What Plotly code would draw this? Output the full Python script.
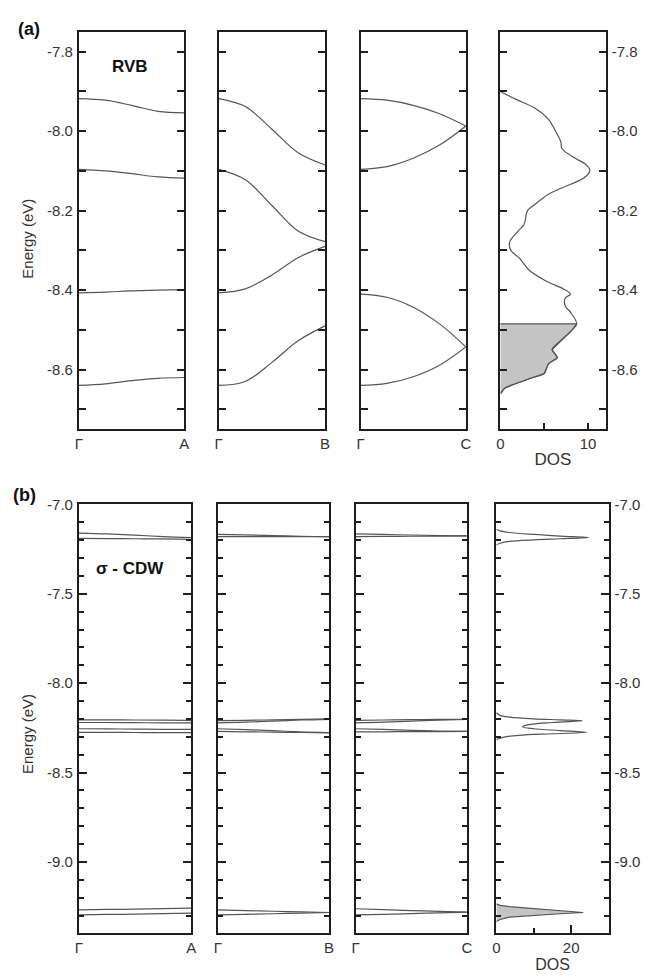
import plotly.graph_objects as go

# ---------------- data ----------------
k = [0.0, 0.25, 0.5, 0.75, 1.0]

# (a) RVB bands (eV)
a_GA = [[-7.918, -7.922, -7.935, -7.950, -7.954],
        [-8.096, -8.100, -8.107, -8.115, -8.118],
        [-8.407, -8.405, -8.402, -8.400, -8.399],
        [-8.640, -8.636, -8.628, -8.622, -8.620]]
a_GB = [[-7.918, -7.938, -7.995, -8.055, -8.085],
        [-8.096, -8.122, -8.187, -8.252, -8.278],
        [-8.407, -8.397, -8.362, -8.318, -8.290],
        [-8.640, -8.630, -8.582, -8.527, -8.490]]
a_GC = [[-7.918, -7.922, -7.935, -7.956, -7.987],
        [-8.096, -8.089, -8.068, -8.035, -7.987],
        [-8.410, -8.418, -8.443, -8.485, -8.543],
        [-8.640, -8.635, -8.618, -8.589, -8.543]]

# (a) DOS
dos_a_E = [-7.900, -7.920, -7.943, -7.968, -8.000, -8.027, -8.043, -8.064, -8.085, -8.100,
           -8.118, -8.143, -8.160, -8.185, -8.200, -8.235, -8.252, -8.280, -8.300, -8.320,
           -8.350, -8.377, -8.397, -8.410, -8.420, -8.440, -8.456, -8.485, -8.500, -8.527,
           -8.550, -8.570, -8.585, -8.610, -8.620, -8.635, -8.647, -8.660]
dos_a_val = [0.0, 1.8, 4.0, 5.4, 6.3, 6.9, 7.0, 8.2, 9.8, 10.2,
             9.5, 7.0, 5.4, 3.9, 3.1, 2.7, 2.0, 1.05, 1.2, 2.2,
             3.3, 5.2, 7.2, 8.0, 7.4, 7.4, 8.0, 8.7, 8.2, 6.9,
             5.9, 6.5, 5.5, 5.0, 3.7, 1.8, 0.5, 0.1]
fermi_a = -8.485

# (b) sigma-CDW bands (eV)
b_GA = [[-7.160, -7.165, -7.172, -7.180, -7.185],
        [-7.190, -7.191, -7.192, -7.193, -7.195],
        [-8.205, -8.205, -8.206, -8.207, -8.208],
        [-8.220, -8.220, -8.221, -8.222, -8.222],
        [-8.255, -8.256, -8.257, -8.258, -8.258],
        [-8.275, -8.275, -8.276, -8.277, -8.277],
        [-9.268, -9.266, -9.264, -9.261, -9.259],
        [-9.296, -9.294, -9.292, -9.289, -9.287]]
b_GB = [[-7.167, -7.170, -7.174, -7.178, -7.180],
        [-7.180, -7.180, -7.180, -7.180, -7.180],
        [-8.210, -8.208, -8.205, -8.202, -8.200],
        [-8.222, -8.218, -8.212, -8.206, -8.202],
        [-8.255, -8.260, -8.266, -8.272, -8.276],
        [-8.270, -8.272, -8.274, -8.276, -8.278],
        [-9.268, -9.272, -9.276, -9.280, -9.283],
        [-9.296, -9.293, -9.290, -9.286, -9.283]]
b_GC = [[-7.165, -7.168, -7.171, -7.174, -7.176],
        [-7.180, -7.179, -7.178, -7.177, -7.176],
        [-8.208, -8.206, -8.204, -8.203, -8.202],
        [-8.222, -8.218, -8.212, -8.207, -8.203],
        [-8.255, -8.259, -8.264, -8.268, -8.270],
        [-8.272, -8.272, -8.271, -8.271, -8.270],
        [-9.262, -9.267, -9.272, -9.277, -9.281],
        [-9.296, -9.293, -9.289, -9.285, -9.281]]

# (b) DOS peaks (each listed top to bottom)
dos_b1_E = [-7.139, -7.148, -7.157, -7.168, -7.177, -7.185, -7.192, -7.198, -7.207, -7.217, -7.226]
dos_b1_val = [0.0, 1.0, 3.5, 10.0, 17.0, 24.6, 17.0, 10.0, 3.5, 1.0, 0.0]
dos_b2_E = [-8.165, -8.180, -8.190, -8.200, -8.205, -8.210, -8.220, -8.235, -8.245, -8.255,
            -8.265, -8.275, -8.283, -8.292, -8.302, -8.315]
dos_b2_val = [0.0, 1.0, 3.5, 10.0, 17.0, 23.0, 15.0, 8.0, 7.0, 10.0,
              17.0, 24.0, 15.0, 6.0, 2.0, 0.0]
dos_b3_E = [-9.235, -9.243, -9.250, -9.262, -9.273, -9.283, -9.290, -9.298, -9.309, -9.322, -9.333]
dos_b3_val = [0.0, 1.0, 3.5, 10.0, 17.0, 23.2, 17.0, 10.0, 3.5, 1.0, 0.0]

kpts = [["Γ", "A"], ["Γ", "B"], ["Γ", "C"]]
ytick_a = [-7.8, -8.0, -8.2, -8.4, -8.6]
ytext_a = ["-7.8", "-8.0", "-8.2", "-8.4", "-8.6"]
yminor_a = [-7.9, -8.1, -8.3, -8.5, -8.7]
ytick_b = [-7.0, -7.5, -8.0, -8.5, -9.0]
ytext_b = ["-7.0", "-7.5", "-8.0", "-8.5", "-9.0"]
yminor_b = [-7.1, -7.2, -7.3, -7.4, -7.6, -7.7, -7.8, -7.9, -8.1, -8.2, -8.3, -8.4,
            -8.6, -8.7, -8.8, -8.9, -9.1, -9.2, -9.3]
dos_tick_a = [0, 10]
dos_minor_a = [5]
dos_tick_b = [0, 20]
dos_minor_b = [10]

# ---------------- layout helpers ----------------
OFF = 8                      # default page body margin
W, H = 653 - OFF, 977 - OFF  # figure size so that it ends at the window edge

def fx(p):
    return (p - OFF) / W

def fy(p):
    return 1 - (p - OFF) / H

FONT = "Arial, Liberation Sans, sans-serif"
LINE = "#1e1e1e"
BAND = "#555555"
TXT = "#333333"
LW = 2
TF = 15

panels_a = [(76, 183), (218, 326), (362, 469), (504, 611)]
panels_b = [(76, 190), (217, 330), (357, 470), (500, 614)]
ya = (23, 424)
yb = (500, 933)

fig = go.Figure()
layout = dict(width=W, height=H, margin=dict(l=0, r=0, t=0, b=0),
              paper_bgcolor="white", plot_bgcolor="white", showlegend=False,
              font=dict(family=FONT, color=TXT, size=TF))

def axname(i):
    return ("x" if i == 1 else f"x{i}"), ("y" if i == 1 else f"y{i}")

def setup(i, xd, yd, yr, yt, ytt, ymin, majlen, minlen, side):
    xn, yn = axname(i)
    layout[f"xaxis{i}"] = dict(domain=[fx(xd[0]), fx(xd[1])], anchor=yn,
                               showline=True, linecolor=LINE, linewidth=LW, mirror=True,
                               showgrid=False, zeroline=False, fixedrange=True)
    ya_d = dict(domain=[fy(yd[1]), fy(yd[0])], anchor=xn, range=yr,
                showline=True, linecolor=LINE, linewidth=LW, mirror="ticks",
                showgrid=False, zeroline=False, ticks="inside", ticklen=majlen,
                tickwidth=LW, tickcolor=LINE, tickvals=yt, ticktext=ytt,
                minor=dict(tickvals=ymin, ticks="inside", ticklen=minlen,
                           tickwidth=LW, tickcolor=LINE, showgrid=False),
                tickfont=dict(size=TF, color=TXT, family=FONT), fixedrange=True)
    if side is None:
        ya_d["showticklabels"] = False
    else:
        ya_d["side"] = side
        ya_d["ticklabelstandoff"] = 1
    layout[f"yaxis{i}"] = ya_d

# (a) axes 1-4, (b) axes 5-8
for j in range(4):
    side = "left" if j == 0 else ("right" if j == 3 else None)
    setup(j + 1, panels_a[j], ya, [-8.75, -7.75], ytick_a, ytext_a, yminor_a, 7, 7, side)
    setup(j + 5, panels_b[j], yb, [-9.4, -7.0], ytick_b, ytext_b, yminor_b, 8, 5, side)

# band panels x axes
for j in range(3):
    for off in (1, 5):
        i = j + off
        layout[f"xaxis{i}"].update(range=[0, 1], tickvals=[0, 1], ticktext=kpts[j],
                                   ticks="", tickfont=dict(size=TF, color=TXT, family=FONT))

# DOS x axes
layout["xaxis4"].update(range=[0, 12], tickvals=dos_tick_a, ticktext=[str(v) for v in dos_tick_a],
                        ticks="inside", ticklen=6, tickwidth=LW, tickcolor=LINE,
                        minor=dict(tickvals=dos_minor_a, ticks="inside", ticklen=6,
                                   tickwidth=LW, tickcolor=LINE),
                        tickfont=dict(size=TF, color=TXT, family=FONT),
                        title=dict(text="DOS", font=dict(size=17, color=TXT, family=FONT), standoff=2))
layout["xaxis8"].update(range=[0, 30], tickvals=dos_tick_b, ticktext=[str(v) for v in dos_tick_b],
                        ticks="inside", ticklen=8, tickwidth=LW, tickcolor=LINE,
                        minor=dict(tickvals=dos_minor_b, ticks="inside", ticklen=5,
                                   tickwidth=LW, tickcolor=LINE),
                        tickfont=dict(size=TF, color=TXT, family=FONT),
                        title=dict(text="DOS", font=dict(size=16, color=TXT, family=FONT), standoff=0))

def add_line(i, x, y):
    xn, yn = axname(i)
    fig.add_trace(go.Scatter(x=x, y=y, mode="lines", xaxis=xn, yaxis=yn,
                             line=dict(color=BAND, width=1.2, shape="spline", smoothing=1.0),
                             hoverinfo="skip"))

for j, bands in enumerate([a_GA, a_GB, a_GC]):
    for b in bands:
        add_line(j + 1, k, b)
for j, bands in enumerate([b_GA, b_GB, b_GC]):
    for b in bands:
        add_line(j + 5, k, b)

# (a) DOS fill below Fermi level
occ_E = [e for e in dos_a_E if e <= fermi_a]
occ_v = [v for e, v in zip(dos_a_E, dos_a_val) if e <= fermi_a]
fig.add_trace(go.Scatter(x=[0] + occ_v + [0], y=[fermi_a] + occ_E + [occ_E[-1]],
                         mode="lines", fill="toself", fillcolor="#c4c4c4",
                         line=dict(color=BAND, width=1.2), xaxis="x4", yaxis="y4",
                         hoverinfo="skip"))
add_line(4, dos_a_val, dos_a_E)

# (b) DOS
add_line(8, dos_b1_val, dos_b1_E)
add_line(8, dos_b2_val, dos_b2_E)
fig.add_trace(go.Scatter(x=dos_b3_val, y=dos_b3_E, mode="lines", fill="toself",
                         fillcolor="#c4c4c4", line=dict(color=BAND, width=1.2),
                         xaxis="x8", yaxis="y8", hoverinfo="skip"))

ann = []
def text(x, y, t, size, bold=False, angle=0):
    ann.append(dict(x=fx(x), y=fy(y), xref="paper", yref="paper",
                    text=(f"<b>{t}</b>" if bold else t),
                    showarrow=False, textangle=angle, xanchor="center", yanchor="middle",
                    font=dict(size=size, color="#111111" if bold else TXT, family=FONT)))

text(25, 20, "(a)", 18, bold=True)
text(21, 490, "(b)", 18, bold=True)
text(128, 58, "RVB", 17, bold=True)
text(128, 565, "σ - CDW", 17, bold=True)
text(24, 232, "Energy (eV)", 15, angle=-90)
text(24, 732, "Energy (eV)", 15, angle=-90)
layout["annotations"] = ann

fig.update_layout(**layout)
fig.write_html("out.html")
